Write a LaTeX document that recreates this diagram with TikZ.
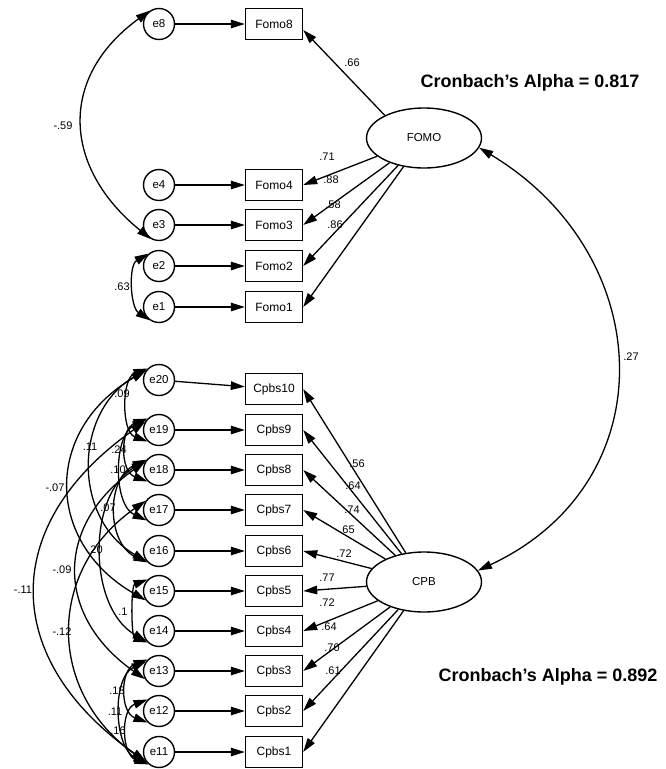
\documentclass[tikz,border=0pt]{standalone}
\usepackage{fontspec}
\setmainfont{Liberation Sans}
\usetikzlibrary{arrows.meta, shapes.geometric}
\tikzset{
  err/.style={circle, draw, line width=1.4pt, minimum size=31pt, inner sep=0pt,
              font=\fontsize{11.5}{12}\selectfont},
  obs/.style={rectangle, draw, line width=1.4pt, minimum width=57pt,
              minimum height=31pt, inner sep=0pt, font=\fontsize{12}{13}\selectfont},
  lat/.style={ellipse, draw, line width=1.4pt, minimum width=115pt,
              minimum height=60pt, inner sep=0pt, font=\fontsize{11.5}{12}\selectfont},
  arr/.style={-{Triangle[length=14pt, width=8.5pt]}, line width=1.3pt},
  cov/.style={{Triangle[length=14pt, width=8.5pt]}-{Triangle[length=14pt, width=8.5pt]},
              line width=1.3pt},
  lbl/.style={inner sep=0pt, font=\fontsize{11}{12}\selectfont},
  alpha/.style={inner sep=0pt, font=\fontsize{18}{20}\selectfont\bfseries},
}

\begin{document}
\begin{tikzpicture}[x=1pt, y=1pt]
  \useasboundingbox (0,0) rectangle (666,-769);

  % FOMO block
  \node[err] (e8) at (159,-24) {e8};
  \node[err] (e4) at (159,-185) {e4};
  \node[err] (e3) at (159,-225) {e3};
  \node[err] (e2) at (159,-266) {e2};
  \node[err] (e1) at (159,-307) {e1};
  \node[obs] (fomo8) at (274,-24) {Fomo8};
  \node[obs] (fomo4) at (274,-185) {Fomo4};
  \node[obs] (fomo3) at (274,-225) {Fomo3};
  \node[obs] (fomo2) at (274,-266) {Fomo2};
  \node[obs] (fomo1) at (274,-307) {Fomo1};
  \node[lat] (fomo) at (424,-138) {FOMO};
  \node[alpha] (alphafomo) at (530,-83) {Cronbach's Alpha = 0.817};

  \draw[arr] (e8) -- (fomo8);
  \draw[arr] (e4) -- (fomo4);
  \draw[arr] (e3) -- (fomo3);
  \draw[arr] (e2) -- (fomo2);
  \draw[arr] (e1) -- (fomo1);
  \draw[arr] (fomo.150) -- ([yshift=-6pt]fomo8.east);
  \draw[arr] (fomo) -- (fomo4.east);
  \draw[arr] (fomo) -- (fomo3.east);
  \draw[arr] (fomo) -- (fomo2.east);
  \draw[arr] (fomo) -- (fomo1.east);
  \node[lbl] (l8) at (352,-63) {.66};
  \node[lbl] (l4) at (327,-157) {.71};
  \node[lbl] (l3) at (331,-180) {.88};
  \node[lbl] (l2) at (333,-205) {.58};
  \node[lbl] (l1) at (335,-225) {.86};

  \draw[cov] (e8.125) to[out=216, in=141, looseness=1.27] (e3.240);
  \node[lbl] (c83) at (63,-126) {-.59};
  \draw[cov] (e2.130) to[out=210, in=146, looseness=0.9] (e1.235);
  \node[lbl] (c21) at (122,-287) {.63};

  % CPB block
  \node[err] (e20) at (159,-380) {e20};
  \node[err] (e19) at (159,-430) {e19};
  \node[err] (e18) at (159,-470) {e18};
  \node[err] (e17) at (159,-510) {e17};
  \node[err] (e16) at (159,-551) {e16};
  \node[err] (e15) at (159,-591) {e15};
  \node[err] (e14) at (159,-631) {e14};
  \node[err] (e13) at (159,-671) {e13};
  \node[err] (e12) at (159,-711) {e12};
  \node[err] (e11) at (159,-752) {e11};
  \node[obs] (cpbs10) at (274,-389) {Cpbs10};
  \node[obs] (cpbs9) at (274,-430) {Cpbs9};
  \node[obs] (cpbs8) at (274,-470) {Cpbs8};
  \node[obs] (cpbs7) at (274,-510) {Cpbs7};
  \node[obs] (cpbs6) at (274,-551) {Cpbs6};
  \node[obs] (cpbs5) at (274,-591) {Cpbs5};
  \node[obs] (cpbs4) at (274,-631) {Cpbs4};
  \node[obs] (cpbs3) at (274,-671) {Cpbs3};
  \node[obs] (cpbs2) at (274,-711) {Cpbs2};
  \node[obs] (cpbs1) at (274,-752) {Cpbs1};
  \node[lat] (cpb) at (424,-582) {CPB};
  \node[alpha] (alphacpb) at (548,-677) {Cronbach's Alpha = 0.892};

  \draw[arr] (e20) -- (cpbs10);
  \draw[arr] (e19) -- (cpbs9);
  \draw[arr] (e18) -- (cpbs8);
  \draw[arr] (e17) -- (cpbs7);
  \draw[arr] (e16) -- (cpbs6);
  \draw[arr] (e15) -- (cpbs5);
  \draw[arr] (e14) -- (cpbs4);
  \draw[arr] (e13) -- (cpbs3);
  \draw[arr] (e12) -- (cpbs2);
  \draw[arr] (e11) -- (cpbs1);
  \draw[arr] (cpb) -- (cpbs10.east);
  \draw[arr] (cpb) -- (cpbs9.east);
  \draw[arr] (cpb) -- (cpbs8.east);
  \draw[arr] (cpb) -- (cpbs7.east);
  \draw[arr] (cpb) -- (cpbs6.east);
  \draw[arr] (cpb) -- (cpbs5.east);
  \draw[arr] (cpb) -- (cpbs4.east);
  \draw[arr] (cpb) -- (cpbs3.east);
  \draw[arr] (cpb) -- (cpbs2.east);
  \draw[arr] (cpb) -- (cpbs1.east);
  \node[lbl] (l10) at (357,-464) {.56};
  \node[lbl] (l9) at (353,-486) {.64};
  \node[lbl] (l7a) at (352,-510) {.74};
  \node[lbl] (l7) at (347,-530) {.65};
  \node[lbl] (l6) at (344,-554) {.72};
  \node[lbl] (l5) at (327,-578) {.77};
  \node[lbl] (l4b) at (327,-603) {.72};
  \node[lbl] (l3b) at (329,-627) {.64};
  \node[lbl] (l2b) at (332,-648) {.70};
  \node[lbl] (l1b) at (333,-671) {.61};

  % error covariances
  \draw[cov] (e20.135) to[out=200, in=160, looseness=0.98] (e19.225);
  \draw[cov] (e20.140) to[out=210, in=150, looseness=1.14] (e16.220);
  \draw[cov] (e19.135) to[out=200, in=160, looseness=1.2] (e18.225);
  \draw[cov] (e19.140) to[out=205, in=155, looseness=0.94] (e17.220);
  \draw[cov] (e20.145) to[out=210, in=150, looseness=1.31] (e15.215);
  \draw[cov] (e18.140) to[out=205, in=155, looseness=1.12] (e16.225);
  \draw[cov] (e18.145) to[out=210, in=150, looseness=0.96] (e14.220);
  \draw[cov] (e18.150) to[out=215, in=145, looseness=1.3] (e13.210);
  \draw[cov] (e19.150) to[out=215, in=145, looseness=1.34] (e11.215);
  \draw[cov] (e15.135) to[out=200, in=160, looseness=0.72] (e14.225);
  \draw[cov] (e17.145) to[out=215, in=145, looseness=1.19] (e11.220);
  \draw[cov] (e13.135) to[out=200, in=160, looseness=1.2] (e12.225);
  \draw[cov] (e13.145) to[out=205, in=155, looseness=0.94] (e11.225);
  \draw[cov] (e12.135) to[out=200, in=160, looseness=1.14] (e11.230);
  \node[lbl] (c2019) at (122,-394) {.09};
  \node[lbl] (c2016) at (90,-447) {.11};
  \node[lbl] (c1918) at (119,-450) {.24};
  \node[lbl] (c1917) at (118,-470) {.10};
  \node[lbl] (c2015) at (55,-488) {-.07};
  \node[lbl] (c1816) at (108,-508) {.07};
  \node[lbl] (c1814) at (95,-550) {.20};
  \node[lbl] (c1813) at (62,-570) {-.09};
  \node[lbl] (c1911) at (23,-590) {-.11};
  \node[lbl] (c1514) at (123,-612) {.1};
  \node[lbl] (c1711) at (62,-632) {-.12};
  \node[lbl] (c1312) at (117,-691) {.18};
  \node[lbl] (c1311) at (115,-712) {.11};
  \node[lbl] (c1211) at (118,-731) {.16};

  % factor covariance
  \draw[cov] (fomo.-10) to[out=-31, in=25, looseness=1.26] (cpb.12);
  \node[lbl] (cfc) at (631,-357) {.27};
\end{tikzpicture}
\end{document}
